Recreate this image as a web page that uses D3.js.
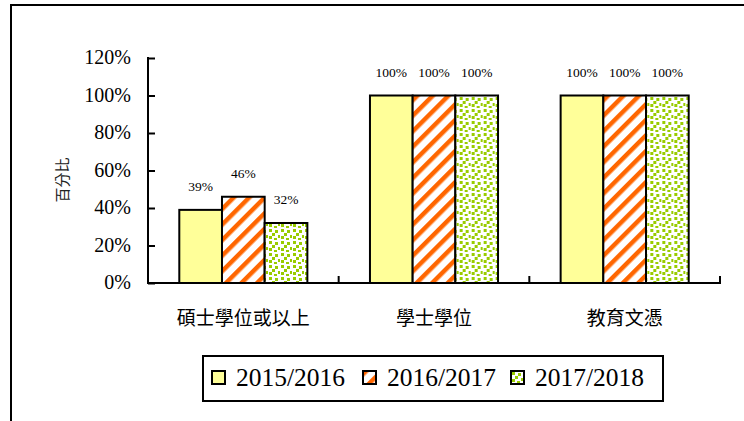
<!DOCTYPE html>
<html>
<head>
<meta charset="utf-8">
<script src="https://cdn.jsdelivr.net/npm/d3@7"></script>
<style>
  body { margin: 0; background: #fff; }
  svg text { font-family: "Liberation Serif", "Noto Sans CJK TC", serif; fill: #000; }
</style>
</head>
<body>
<div id="chart"></div>
<script>
// data
var categories = ["碩士學位或以上", "學士學位", "教育文憑"];
var seriesNames = ["2015/2016", "2016/2017", "2017/2018"];
var values2015 = [0.39, 1.00, 1.00];
var values2016 = [0.46, 1.00, 1.00];
var values2017 = [0.32, 1.00, 1.00];
var yTicks = [0, 0.2, 0.4, 0.6, 0.8, 1.0, 1.2];

var seriesValues = [values2015, values2016, values2017];

var width = 744, height = 421;
var plotLeft = 148, plotRight = 720, plotTop = 58, plotBottom = 283;

var svg = d3.select("#chart").append("svg")
    .attr("width", width)
    .attr("height", height);

// patterns
var defs = svg.append("defs");

var stripes = defs.append("pattern")
    .attr("id", "stripes")
    .attr("patternUnits", "userSpaceOnUse")
    .attr("width", 11).attr("height", 11)
    .attr("patternTransform", "rotate(45)");
stripes.append("rect").attr("width", 11).attr("height", 11).attr("fill", "#fff");
stripes.append("rect").attr("x", 0).attr("width", 4.5).attr("height", 11).attr("fill", "#ff6600");

var dots = defs.append("pattern")
    .attr("id", "dots")
    .attr("patternUnits", "userSpaceOnUse")
    .attr("width", 12).attr("height", 12);
dots.append("rect").attr("width", 12).attr("height", 12).attr("fill", "#fff");
var dotPos = [[1, 1], [7, 2], [4, 5], [10, 7], [1, 8], [6, 10]];
dots.selectAll("rect.d").data(dotPos).enter().append("rect")
    .attr("class", "d")
    .attr("x", function(d) { return d[0]; })
    .attr("y", function(d) { return d[1]; })
    .attr("width", 3).attr("height", 3)
    .attr("fill", "#99cc00");

var fills = ["#ffff99", "url(#stripes)", "url(#dots)"];

// outer frame
svg.append("rect")
    .attr("x", 11).attr("y", 5)
    .attr("width", 800).attr("height", 500)
    .attr("fill", "none")
    .attr("stroke", "#000")
    .attr("stroke-width", 2);

var x0 = d3.scaleBand().domain(categories).range([plotLeft, plotRight]);
var x1 = d3.scaleBand().domain(seriesNames)
    .range([31.3, x0.bandwidth() - 31.3]);
var y = d3.scaleLinear().domain([0, 1.2]).range([plotBottom, plotTop]);

// bars
var groups = svg.selectAll("g.grp")
    .data(categories)
    .enter().append("g")
    .attr("class", "grp")
    .attr("transform", function(d) { return "translate(" + x0(d) + ",0)"; });

groups.each(function(cat, ci) {
    var g = d3.select(this);
    var rows = seriesNames.map(function(s, si) {
        return { s: s, si: si, v: seriesValues[si][ci] };
    });
    g.selectAll("rect")
        .data(rows)
        .enter().append("rect")
        .attr("x", function(d) { return x1(d.s); })
        .attr("y", function(d) { return y(d.v); })
        .attr("width", x1.bandwidth())
        .attr("height", function(d) { return y(0) - y(d.v); })
        .attr("fill", function(d) { return fills[d.si]; })
        .attr("stroke", "#000")
        .attr("stroke-width", 2);
    g.selectAll("text.lbl")
        .data(rows)
        .enter().append("text")
        .attr("class", "lbl")
        .attr("x", function(d) { return x1(d.s) + x1.bandwidth() / 2; })
        .attr("y", function(d) { return y(d.v) - 19; })
        .attr("text-anchor", "middle")
        .style("font-size", "13.5px")
        .text(function(d) { return Math.round(d.v * 100) + "%"; });
});

// y axis
var yAxis = svg.append("g")
    .attr("transform", "translate(" + plotLeft + ",0)")
    .call(d3.axisRight(y).tickValues(yTicks).tickSize(7).tickFormat(""));
yAxis.select(".domain").remove();
yAxis.selectAll("line").attr("stroke", "#000").attr("stroke-width", 2);

svg.selectAll("text.ytick")
    .data(yTicks)
    .enter().append("text")
    .attr("class", "ytick")
    .attr("x", 131)
    .attr("y", function(d) { return y(d) + 6; })
    .attr("text-anchor", "end")
    .style("font-size", "20px")
    .text(d3.format(".0%"));

svg.append("line")
    .attr("x1", plotLeft).attr("x2", plotLeft)
    .attr("y1", plotTop - 1).attr("y2", plotBottom)
    .attr("stroke", "#000").attr("stroke-width", 2);

// x axis
var catBounds = [plotLeft].concat(categories.map(function(c) { return x0(c) + x0.bandwidth(); }));
svg.selectAll("line.xtick")
    .data(catBounds)
    .enter().append("line")
    .attr("class", "xtick")
    .attr("x1", function(d) { return d; }).attr("x2", function(d) { return d; })
    .attr("y1", plotBottom).attr("y2", plotBottom - 7)
    .attr("stroke", "#000").attr("stroke-width", 2);
svg.append("line")
    .attr("x1", plotLeft - 1).attr("x2", plotRight + 1)
    .attr("y1", plotBottom).attr("y2", plotBottom)
    .attr("stroke", "#000").attr("stroke-width", 2);

svg.selectAll("text.xcat")
    .data(categories)
    .enter().append("text")
    .attr("class", "xcat")
    .attr("x", function(d) { return x0(d) + x0.bandwidth() / 2; })
    .attr("y", 325)
    .attr("text-anchor", "middle")
    .style("font-size", "19px")
    .text(function(d) { return d; });

// y label
svg.append("text")
    .attr("transform", "translate(68,180) rotate(-90)")
    .attr("text-anchor", "middle")
    .style("font-size", "15px")
    .style("fill", "#222")
    .text("百分比");

// legend
var legend = svg.append("g");
legend.append("rect")
    .attr("x", 203).attr("y", 356)
    .attr("width", 460).attr("height", 45)
    .attr("fill", "#fff")
    .attr("stroke", "#000")
    .attr("stroke-width", 2);

var legX = [212, 363, 511];
var items = legend.selectAll("g.item")
    .data(seriesNames)
    .enter().append("g")
    .attr("class", "item")
    .attr("transform", function(d, i) { return "translate(" + legX[i] + ",371)"; });
items.append("rect")
    .attr("width", 13).attr("height", 13)
    .attr("fill", function(d, i) { return fills[i]; })
    .attr("stroke", "#000")
    .attr("stroke-width", 2);
items.append("text")
    .attr("x", 24)
    .attr("y", 15)
    .style("font-size", "25.5px")
    .text(function(d) { return d; });
</script>
</body>
</html>
